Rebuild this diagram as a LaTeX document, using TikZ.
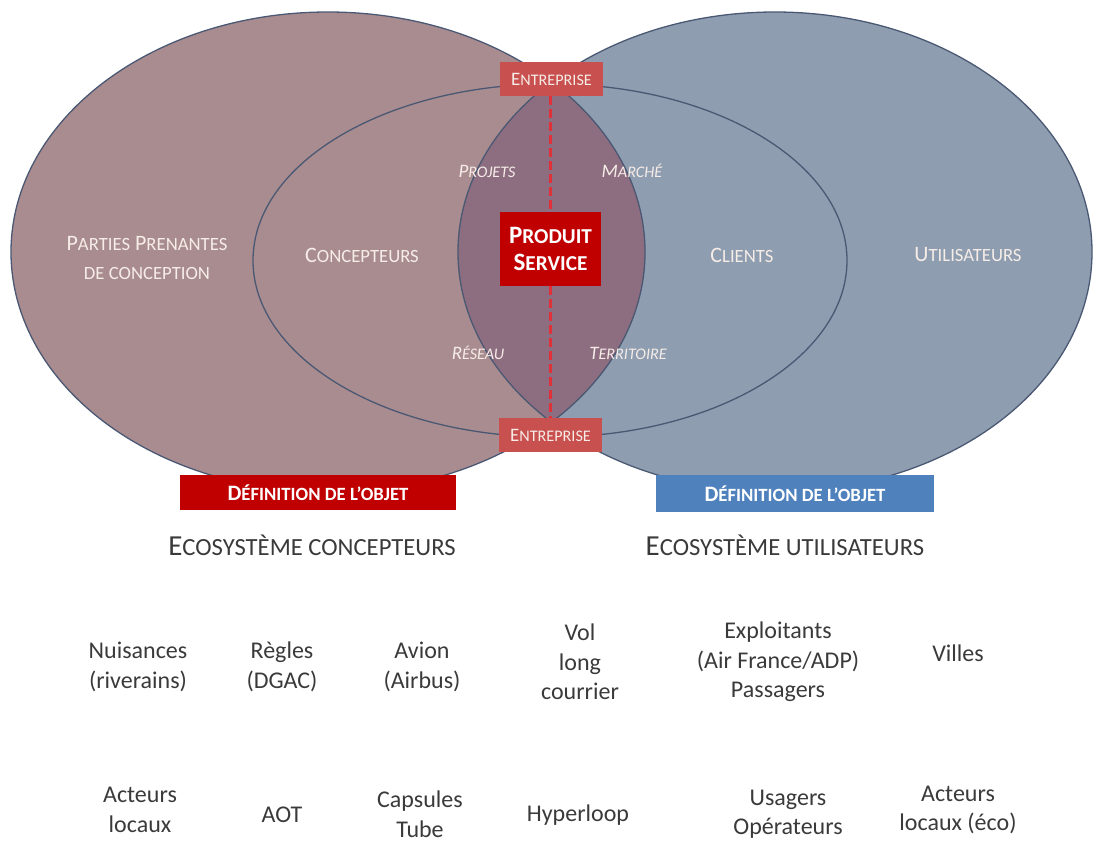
\documentclass[tikz,border=0pt]{standalone}
\usepackage{fontspec}
\setmainfont{Carlito}
\definecolor{lfill}{HTML}{A98C8F}
\definecolor{rfill}{HTML}{8E9DAF}
\definecolor{lens}{HTML}{8D6E80}
\definecolor{edge}{HTML}{4A5873}
\definecolor{ent}{HTML}{C8504E}
\definecolor{darkred}{HTML}{C00000}
\definecolor{defblue}{HTML}{4F81BD}
\definecolor{pale}{HTML}{F6ECE8}
\definecolor{txt}{HTML}{3A3A3A}
\definecolor{dashred}{HTML}{E0303A}
\newcommand\sca[1]{{\fontsize{0.85em}{1em}\selectfont #1}}
\tikzset{
  lbl/.style={text=pale, font=\fontsize{22}{29}\selectfont, align=center, inner sep=0pt},
  ital/.style={text=pale, font=\fontsize{19}{22}\selectfont\itshape, inner sep=0pt},
  entbox/.style={fill=ent, text=pale, font=\fontsize{19}{22}\selectfont, minimum width=103pt, minimum height=34pt, inner sep=0pt},
  prodbox/.style={fill=darkred, text=white, font=\fontsize{25}{30}\selectfont\bfseries, minimum width=101pt, minimum height=74pt, align=center, inner sep=0pt},
  defbox/.style={text=white, font=\fontsize{22}{24}\selectfont\bfseries, minimum width=276pt, minimum height=35pt, inner sep=0pt},
  eco/.style={text=txt, font=\fontsize{29}{32}\selectfont, inner sep=0pt},
  item/.style={text=txt, font=\fontsize{24}{29.5}\selectfont, align=center, inner sep=0pt},
  dashline/.style={dashred, line width=2.2pt, dash pattern=on 9pt off 4pt},
}
\begin{document}
\begin{tikzpicture}[x=1pt,y=-1pt]
\useasboundingbox (0,0) rectangle (1094,841);
% big ellipses
\fill[lfill] (328,252) ellipse [x radius=317, y radius=240];
\fill[rfill] (775,252) ellipse [x radius=317, y radius=240];
\begin{scope}
  \clip (328,252) ellipse [x radius=317, y radius=240];
  \fill[lens] (775,252) ellipse [x radius=317, y radius=240];
\end{scope}
\draw[edge, line width=1.3pt] (328,252) ellipse [x radius=317, y radius=240];
\draw[edge, line width=1.3pt] (775,252) ellipse [x radius=317, y radius=240];
% inner ellipse (concepteurs / clients)
\draw[edge, line width=1.3pt] (551,84) arc[start angle=270, end angle=90, x radius=298, y radius=176.5];
\draw[edge, line width=1.3pt] (551,84) arc[start angle=-90, end angle=90, x radius=296, y radius=176.5];
% boxes
\node[entbox] (e1) at (551.5,79) {E\sca{NTREPRISE}};
\node[entbox] (e2) at (550.5,435) {E\sca{NTREPRISE}};
\node[prodbox] (ps) at (550.5,249) {P\sca{RODUIT}\\[-3pt]S\sca{ERVICE}};
\draw[dashline] (e1.south -| ps.north) -- (ps.north);
\draw[dashline] (ps.south) -- (e2.north -| ps.south);
% labels
\node[lbl] (pp) at (147,258) {P\sca{ARTIES} P\sca{RENANTES}\\\sca{DE CONCEPTION}};
\node[lbl] (co) at (362,255) {C\sca{ONCEPTEURS}};
\node[lbl] (cl) at (742,255) {C\sca{LIENTS}};
\node[lbl] (ut) at (968,255) {U\sca{TILISATEURS}};
\node[ital] (pj) at (487,171) {P\sca{ROJETS}};
\node[ital] (ma) at (632,171) {M\sca{ARCHÉ}};
\node[ital] (re) at (478,353) {R\sca{ÉSEAU}};
\node[ital] (te) at (628,353) {T\sca{ERRITOIRE}};
% definition boxes
\node[defbox, fill=darkred] (d1) at (318,492.5) {D\sca{ÉFINITION DE L’OBJET}};
\node[defbox, fill=defblue, minimum width=278pt, minimum height=37pt] (d2) at (795,493.5) {D\sca{ÉFINITION DE L’OBJET}};
\node[eco] (ec1) at (312,545) {E\sca{COSYSTÈME CONCEPTEURS}};
\node[eco] (ec2) at (785,545) {E\sca{COSYSTÈME UTILISATEURS}};
% items
\node[item] (i1) at (138,667) {Nuisances\\(riverains)};
\node[item] (i2) at (282,667) {Règles\\(DGAC)};
\node[item] (i3) at (422,667) {Avion\\(Airbus)};
\node[item] (i4) at (580,662) {Vol\\long\\courrier};
\node[item] (i5) at (778,662) {Exploitants\\(Air France/ADP)\\Passagers};
\node[item] (i6) at (958,653) {Villes};
\node[item] (j1) at (140,810) {Acteurs\\locaux};
\node[item] (j2) at (282,815) {AOT};
\node[item] (j3) at (420,814) {Capsules\\Tube};
\node[item] (j4) at (578,815) {Hyperloop};
\node[item] (j5) at (788,814) {Usagers\\Opérateurs};
\node[item] (j6) at (958,810) {Acteurs\\locaux (éco)};
\end{tikzpicture}
\end{document}
